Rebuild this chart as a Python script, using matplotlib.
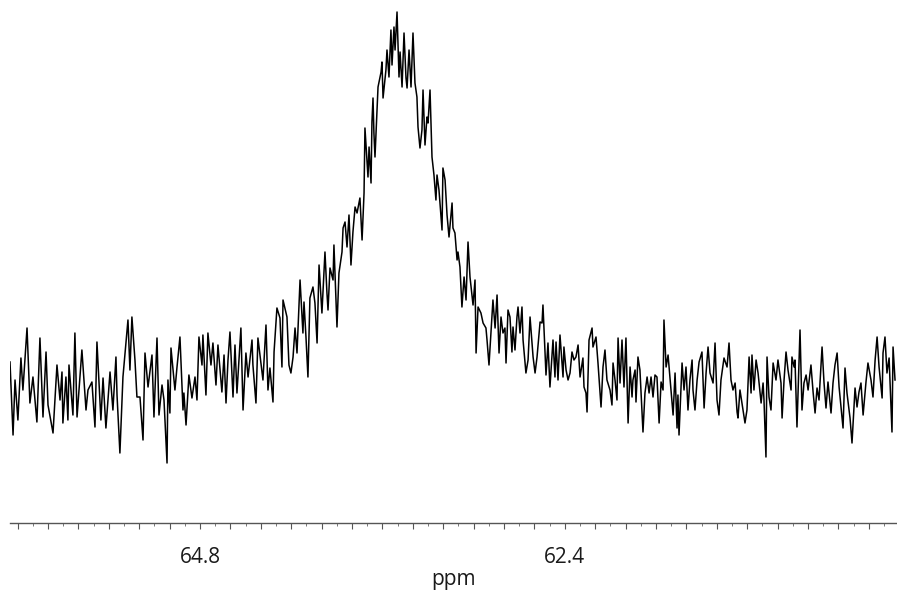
import matplotlib
matplotlib.use("Agg")
import matplotlib.pyplot as plt
from matplotlib.ticker import MultipleLocator, FuncFormatter

# chemical shift (ppm) from left to right
ppm = [
    66.050, 66.030, 66.017, 65.998, 65.978, 65.965, 65.938, 65.919, 65.899, 65.873,
    65.853, 65.833, 65.813, 65.800, 65.767, 65.741, 65.721, 65.708, 65.702, 65.682,
    65.669, 65.662, 65.636, 65.623, 65.609, 65.596, 65.577, 65.550, 65.537, 65.511,
    65.491, 65.478, 65.452, 65.438, 65.419, 65.392, 65.373, 65.353, 65.346, 65.327,
    65.307, 65.274, 65.261, 65.248, 65.228, 65.215,
    65.195, 65.175, 65.162, 65.142, 65.116, 65.103, 65.083, 65.070, 65.050, 65.037,
    65.017, 65.011, 64.998, 64.991, 64.965, 64.952, 64.932, 64.912, 64.906, 64.892,
    64.873, 64.853, 64.833, 64.820, 64.807, 64.787, 64.781, 64.761, 64.748, 64.728,
    64.715, 64.695, 64.682, 64.656, 64.642, 64.629, 64.616, 64.603, 64.583, 64.570,
    64.557, 64.531, 64.517, 64.498, 64.484, 64.458, 64.452, 64.432, 64.419, 64.399,
    64.386, 64.366, 64.353, 64.340, 64.320, 64.313, 64.294,
    64.274, 64.261, 64.254, 64.228, 64.215, 64.202, 64.188, 64.175, 64.162, 64.142,
    64.123, 64.116, 64.103, 64.090, 64.077, 64.057, 64.044, 64.030, 64.017, 63.998,
    63.978, 63.965, 63.958, 63.945, 63.925, 63.919, 63.899, 63.886, 63.866, 63.859,
    63.846, 63.833, 63.820, 63.807, 63.794, 63.780, 63.767,
    63.748, 63.734, 63.721, 63.715, 63.695, 63.688, 63.675, 63.669, 63.662, 63.656,
    63.649, 63.636, 63.629, 63.609, 63.603, 63.596, 63.577, 63.570, 63.557, 63.544,
    63.537, 63.524, 63.517, 63.504, 63.491, 63.484, 63.471, 63.458, 63.445, 63.438,
    63.425, 63.412, 63.399, 63.386, 63.373, 63.366,
    63.353, 63.340, 63.333, 63.320, 63.307, 63.300, 63.287, 63.274, 63.261, 63.248,
    63.241, 63.228, 63.208, 63.202, 63.188, 63.175, 63.162, 63.142, 63.136, 63.123,
    63.109, 63.103, 63.090, 63.077, 63.063, 63.050, 63.037, 63.024,
    63.004, 62.991, 62.984, 62.971, 62.952, 62.938, 62.919, 62.912, 62.899, 62.873,
    62.859, 62.846, 62.833, 62.820, 62.807, 62.794, 62.787, 62.774, 62.761, 62.748,
    62.741, 62.728, 62.715, 62.708, 62.695, 62.682, 62.675, 62.656, 62.642, 62.629,
    62.609, 62.596, 62.583, 62.563, 62.550, 62.544, 62.524, 62.511, 62.498, 62.478,
    62.465, 62.458, 62.445, 62.432, 62.412, 62.406, 62.392, 62.379, 62.366, 62.353,
    62.340, 62.327, 62.313, 62.300, 62.281, 62.274, 62.261, 62.254, 62.241, 62.221,
    62.215, 62.195, 62.182,
    62.162, 62.149, 62.136, 62.123, 62.103, 62.090, 62.083, 62.070, 62.057, 62.050,
    62.037, 62.024, 62.011, 61.998, 61.984, 61.971, 61.958, 61.952, 61.938, 61.932,
    61.919, 61.906, 61.886, 61.873, 61.859, 61.846, 61.833, 61.820, 61.807, 61.794,
    61.780, 61.767, 61.754, 61.748, 61.734, 61.721, 61.702, 61.688, 61.675, 61.662,
    61.656, 61.649, 61.629, 61.616, 61.603, 61.590, 61.577, 61.563, 61.557, 61.544,
    61.530, 61.517, 61.498, 61.484, 61.471, 61.458, 61.445, 61.425, 61.412, 61.399,
    61.386, 61.373, 61.353, 61.333, 61.320, 61.307, 61.294, 61.280, 61.267, 61.261,
    61.248, 61.228, 61.215, 61.202, 61.188, 61.175, 61.169, 61.156, 61.142, 61.129,
    61.109, 61.096, 61.090, 61.077, 61.070, 61.057, 61.044, 61.030, 61.011, 60.998,
    60.978, 60.971, 60.958, 60.945, 60.932, 60.912, 60.906, 60.892, 60.886, 60.873,
    60.853, 60.840, 60.827, 60.813, 60.800, 60.781, 60.767, 60.754, 60.741, 60.728,
    60.708, 60.695, 60.682, 60.669, 60.649, 60.636, 60.623, 60.609, 60.596, 60.583,
    60.570, 60.557, 60.544, 60.524, 60.511, 60.491, 60.478, 60.465, 60.452, 60.438,
    60.419, 60.406, 60.386, 60.373, 60.359, 60.346, 60.333, 60.313, 60.307, 60.294,
    60.281, 60.267, 60.248, 60.241, 60.228,
]

# intensity (arbitrary units, baseline ~ 0)
intensity = [
    28, -45, 10, -30, 32, 0, 62, -13, 13, -32,
    52, -27, 38, -15, -43, 25, -10, 18, -33, 13,
    -30, 25, -25, 57, -27, 0, 40, -20, 0, 8,
    -37, 48, -30, 12, -38, 18, -20, 33, -5, -63,
    13, 70, 20, 73, 30, -7,
    -7, -50, 37, 3, 35, -27, 52, -25, 5, -10,
    -73, 10, -23, 42, 0, 22, 53, -20, -3, -35,
    15, -8, 13, -10, 53, 25, 55, -5, 57, 25,
    47, 5, 45, -2, 35, -13, 30, 58, -7, 45,
    -3, 62, -20, 37, 13, 50, 25, -13, 52, 27,
    10, 65, 0, 22, -12, 38, 82,
    72, 23, 90, 73, 25, 17, 33, 62, 37, 110,
    57, 88, 53, 13, 92, 103, 87, 47, 125, 77,
    138, 97, 80, 122, 110, 145, 63, 117, 138, 162,
    168, 143, 175, 125, 158, 183, 177,
    192, 150, 197, 262, 213, 243, 207, 268, 292, 257,
    233, 280, 303, 318, 328, 292, 320, 340, 313, 360,
    325, 363, 340, 378, 313, 338, 303, 357, 312, 302,
    340, 303, 357, 307, 293, 263,
    242, 260, 300, 245, 273, 267, 300, 233, 215, 190,
    215, 200, 160, 222, 210, 175, 153, 187, 162, 157,
    130, 138, 123, 83, 113, 90, 148, 113,
    85, 110, 37, 83, 77, 67, 62, 50, 25, 90,
    62, 95, 37, 73, 57, 62, 27, 80, 73, 38,
    63, 40, 73, 83, 57, 83, 50, 17, 30, 73,
    33, 17, 33, 68, 67, 85, 15, 47, 3, 50,
    13, 48, 10, 55, 13, 43, 20, 10, 17, 38,
    30, 33, 45, 13, 32, 3, -3, -22, 50, 62,
    43, 53, 27,
    -17, 23, 40, 10, 0, -15, 27, 10, -10, 52,
    7, 50, 3, 52, -33, 23, -7, 10, 20, -12,
    33, 20, -42, -3, 13, -3, 13, -7, 15, 13,
    -33, 8, 0, 70, 23, 35, 0, -25, 17, -38,
    -5, -45, 27, 0, 23, -20, 10, 30, 0, -20,
    10, 28, 38, -18, 17, 43, 17, 7, 47, -10,
    -25, 10, 32, 23, 47, 10, 0, 7, -22, -28,
    0, -20, -33, -20, 33, -3, 35, 0, 30, 17,
    -13, 7, -10, -67, 33, -7, -20, 27, 10, 30,
    7, -28, 10, 38, 20, 0, 33, 23, 30, -37,
    60, -20, 7, 15, 0, 25, -2, -23, 2, -10,
    43, 7, -18, 8, -23, 7, 25, 37, 3, -17,
    -38, 22, -3, -28, -53, 2, -17, -2, 7, -25,
    8, 27, 10, -7, 30, 53, 23, -8, 37, 53,
    17, 32, -42, 43, 10,
]

label_ticks = [64.8, 62.4]
x_label = "ppm"

plt.rcParams['font.family'] = ['Open Sans', 'DejaVu Sans']

fig = plt.figure(figsize=(8.97, 5.92), dpi=100)
ax = fig.add_axes([10 / 897, 69 / 592, 887 / 897, 523 / 592])

ax.plot(ppm, intensity, color='black', linewidth=1.1)

ax.set_xlim(66.05, 60.215)
ax.set_ylim(-133, 390)

for side in ['top', 'left', 'right']:
    ax.spines[side].set_visible(False)
ax.spines['bottom'].set_color('#555555')
ax.spines['bottom'].set_linewidth(1.0)
ax.set_yticks([])

ax.xaxis.set_major_locator(MultipleLocator(0.2))
ax.xaxis.set_minor_locator(MultipleLocator(0.1))
ax.xaxis.set_major_formatter(FuncFormatter(
    lambda v, pos: f"{v:.1f}" if any(abs(v - t) < 1e-6 for t in label_ticks) else ""))
ax.tick_params(axis='x', which='major', length=4, width=0.8, color='#555555',
               pad=13, labelsize=15, labelcolor='#1a1a1a')
ax.tick_params(axis='x', which='minor', length=2.5, width=0.7, color='#777777')

ax.set_xlabel(x_label, fontsize=15, color='#1a1a1a', labelpad=1)

fig.savefig("out.png", dpi=100)
